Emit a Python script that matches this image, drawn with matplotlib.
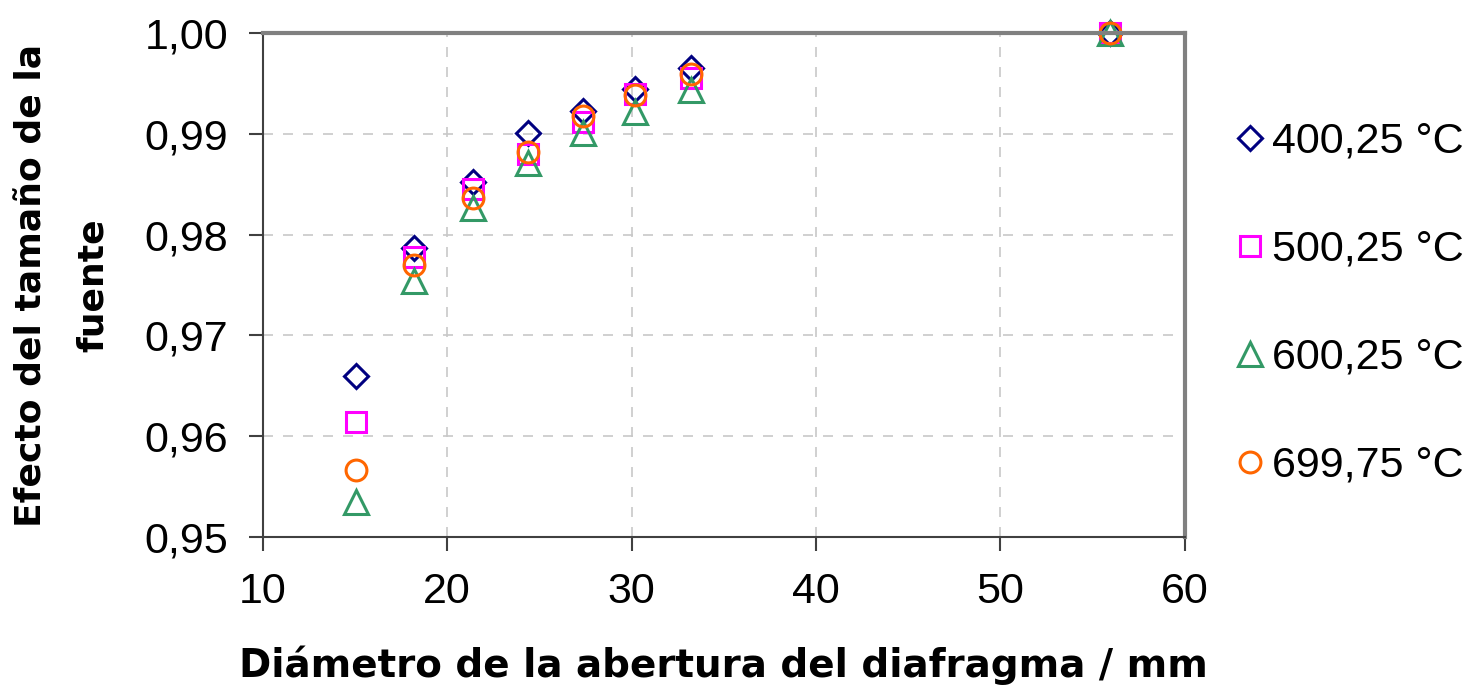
import matplotlib.pyplot as plt

plt.rcParams['font.family'] = ['Liberation Sans', 'DejaVu Sans']

# Aperture diameters (mm)
diameters = [15.05, 18.2, 21.4, 24.4, 27.35, 30.2, 33.2, 55.95]

# Size-of-source effect for each temperature
t400 = [0.9660, 0.9787, 0.9852, 0.9901, 0.9923, 0.9945, 0.9965, 1.0000]
t500 = [0.9614, 0.9778, 0.9845, 0.9880, 0.9912, 0.9940, 0.9956, 1.0000]
t600 = [0.9535, 0.9754, 0.9827, 0.9871, 0.9901, 0.9922, 0.9944, 1.0000]
t700 = [0.9566, 0.9770, 0.9836, 0.9882, 0.9918, 0.9939, 0.9960, 1.0000]

labels = ['400,25 °C', '500,25 °C', '600,25 °C', '699,75 °C']
colors = ['#000080', '#ff00ff', '#339966', '#ff6600']
markers = ['D', 's', '^', 'o']
sizes = [12.5, 15, 17, 15]

fig = plt.figure(figsize=(14.77, 6.92), dpi=100)
ax = fig.add_axes([0.178, 0.224, 0.624, 0.728])

for ys, lab, c, m, s in zip([t400, t500, t600, t700], labels, colors, markers, sizes):
    ax.plot(diameters, ys, linestyle='none', marker=m, markersize=s,
            markerfacecolor='none', markeredgecolor=c, markeredgewidth=2.2,
            label=lab, clip_on=False)

ax.set_xlim(10, 60)
ax.set_ylim(0.95, 1.0)
ax.set_xticks([10, 20, 30, 40, 50, 60])
ax.set_yticks([0.95, 0.96, 0.97, 0.98, 0.99, 1.00])
ax.set_yticklabels(['0,95', '0,96', '0,97', '0,98', '0,99', '1,00'])
ax.tick_params(labelsize=31, length=10, width=1.5, direction='out', pad=15, color='#404040')

ax.grid(True, linestyle=(0, (6, 6)), color='#c8c8c8', linewidth=1.2)
ax.set_axisbelow(True)

for side in ['top', 'right']:
    ax.spines[side].set_color('#808080')
    ax.spines[side].set_linewidth(3)
for side in ['left', 'bottom']:
    ax.spines[side].set_color('#404040')
    ax.spines[side].set_linewidth(1.5)

ax.set_xlabel('Diámetro de la abertura del diafragma / mm', fontsize=28,
              fontweight='bold', family='DejaVu Sans', labelpad=24)
ax.set_ylabel('Efecto del tamaño de la\nfuente', fontsize=26,
              fontweight='bold', family='DejaVu Sans', labelpad=25, linespacing=2.0)

ax.legend(loc='center left', bbox_to_anchor=(0.823, 0.561),
          bbox_transform=fig.transFigure, frameon=False, borderpad=0,
          fontsize=31, labelspacing=1.58, handletextpad=0.2,
          handlelength=0.6, markerscale=1.0)

fig.savefig('out.png', dpi=100)
